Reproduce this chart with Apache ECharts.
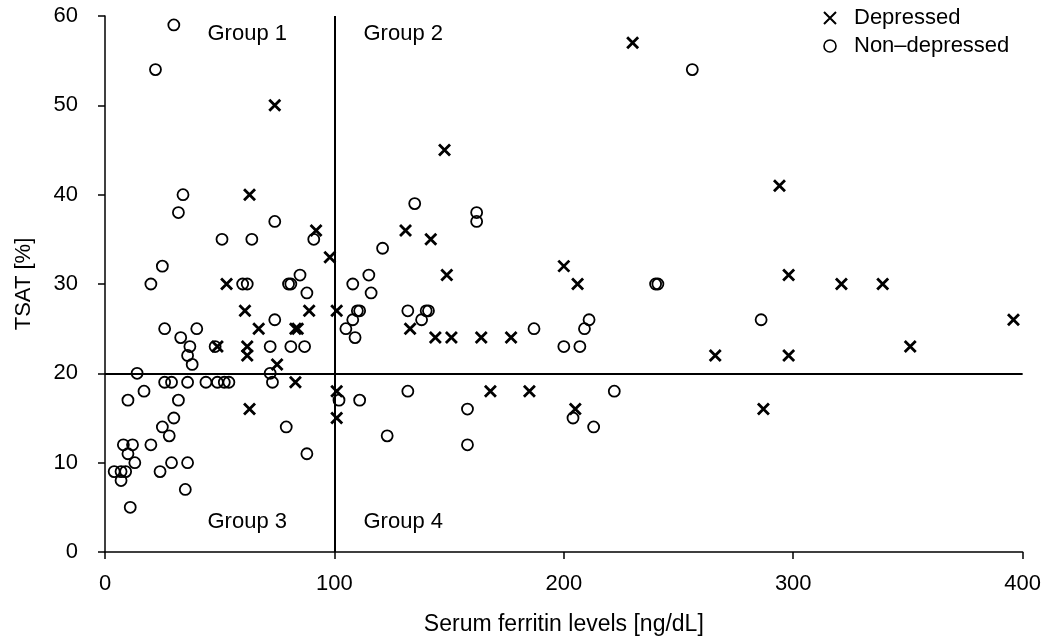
<!DOCTYPE html>
<html>
<head>
<meta charset="utf-8">
<script src="https://cdn.jsdelivr.net/npm/echarts@6/dist/echarts.min.js"></script>
<style>
html,body{margin:0;padding:0;background:#fff;}
#c{width:1044px;height:641px;}
</style>
</head>
<body>
<div id="c"></div>
<script>
// Depressed (crosses)
var depFerritin = [74,63,92,98,53,61,89,101,67,83,84,49,62,62,75,83,101,63,101,
  230,148,294,131,142,200,149,206,298,321,339,396,133,144,151,164,177,351,266,298,168,185,205,287];
var depTsat = [50,40,36,33,30,27,27,27,25,25,25,23,23,22,21,19,18,16,15,
  57,45,41,36,35,32,31,30,31,30,30,26,25,24,24,24,24,23,22,22,18,18,16,16];
// Non-depressed (circles)
var nonFerritin = [30,22,34,32,74,91,51,64,25,20,60,62,80,81,85,88,74,26,40,33,37,48,72,81,87,36,38,
  14,26,29,36,44,49,52,54,72,73,17,10,32,30,25,28,79,88,20,8,12,10,13,29,36,4,7,9,24,7,35,11,
  108,135,162,162,121,115,116,110,111,132,140,141,108,138,105,109,187,200,207,209,211,240,241,256,286,
  102,111,132,123,158,158,222,204,213];
var nonTsat = [59,54,40,38,37,35,35,35,32,30,30,30,30,30,31,29,26,25,25,24,23,23,23,23,23,22,21,
  20,19,19,19,19,19,19,19,20,19,18,17,17,15,14,13,14,11,12,12,12,11,10,10,10,9,9,9,9,8,7,5,
  30,39,38,37,34,31,29,27,27,27,27,27,26,26,25,24,25,23,23,25,26,30,30,54,26,
  17,17,18,13,16,12,18,15,14];
// Cut-off lines
var ferritinCut = 100;
var tsatCut = 20;
// Quadrant labels
var groupNames = ['Group 1','Group 2','Group 3','Group 4'];
var groupX = [62, 130, 62, 130];
var groupY = [58, 58, 3.4, 3.4];
// Axis ticks
var xTicks = [0,100,200,300,400];
var yTicks = [0,10,20,30,40,50,60];

function pairs(xs, ys){ return xs.map(function(x,i){ return [x, ys[i]]; }); }

var FONT = 'Liberation Sans, Arial, Helvetica, sans-serif';
var FS = 22;
var crossPath = 'path://M0,0L10,10M10,0L0,10';

var chart = echarts.init(document.getElementById('c'), null, {renderer:'canvas'});
chart.setOption({
  animation: false,
  backgroundColor: '#fff',
  textStyle: {fontFamily: FONT},
  grid: {left: 105, right: 19, top: 16, bottom: 86, containLabel: false},
  legend: {
    orient: 'vertical',
    left: 818, top: 2,
    itemWidth: 38, itemHeight: 12, itemGap: 6,
    selectedMode: false,
    textStyle: {fontFamily: FONT, fontSize: FS, color: '#000'},
    data: [
      {name: 'Depressed', icon: crossPath, itemStyle: {color: '#000', borderColor: '#000', borderWidth: 2}},
      {name: 'Non\u2013depressed', icon: 'circle', itemStyle: {color: 'rgba(0,0,0,0)', borderColor: '#000', borderWidth: 1.6}}
    ]
  },
  xAxis: {
    type: 'value', min: xTicks[0], max: xTicks[xTicks.length-1], interval: 100,
    name: 'Serum ferritin levels [ng/dL]', nameLocation: 'middle', nameGap: 61,
    nameTextStyle: {fontFamily: FONT, fontSize: 23, color: '#000'},
    axisLine: {show: true, lineStyle: {color: '#000', width: 1.5}},
    axisTick: {show: true, inside: false, length: 7, lineStyle: {color: '#000', width: 1.5}},
    axisLabel: {fontFamily: FONT, fontSize: FS, color: '#000', margin: 21},
    splitLine: {show: false}
  },
  yAxis: {
    type: 'value', min: yTicks[0], max: yTicks[yTicks.length-1], interval: 10,
    name: 'TSAT [%]', nameLocation: 'middle', nameGap: 70, nameRotate: 90,
    nameTextStyle: {fontFamily: FONT, fontSize: FS, color: '#000'},
    axisLine: {show: true, lineStyle: {color: '#000', width: 1.5}},
    axisTick: {show: true, inside: false, length: 7, lineStyle: {color: '#000', width: 1.5}},
    axisLabel: {fontFamily: FONT, fontSize: FS, color: '#000', margin: 27},
    splitLine: {show: false}
  },
  series: [
    {
      name: 'Non\u2013depressed', type: 'scatter', silent: true,
      symbol: 'circle', symbolSize: 11,
      itemStyle: {color: 'rgba(0,0,0,0)', borderColor: '#000', borderWidth: 1.8, opacity: 1},
      data: pairs(nonFerritin, nonTsat),
      markLine: {
        silent: true, symbol: 'none', animation: false,
        label: {show: false},
        lineStyle: {color: '#000', width: 2, type: 'solid'},
        data: [{xAxis: ferritinCut}, {yAxis: tsatCut}]
      }
    },
    {
      name: 'Depressed', type: 'scatter', silent: true,
      symbol: crossPath, symbolSize: 11, symbolKeepAspect: true,
      itemStyle: {color: '#000', borderColor: '#000', borderWidth: 2.8, opacity: 1},
      data: pairs(depFerritin, depTsat)
    },
    {
      name: 'groups', type: 'scatter', silent: true,
      symbolSize: 0,
      itemStyle: {opacity: 1},
      data: groupNames.map(function(n,i){ return {name: n, value: [groupX[i], groupY[i]]}; }),
      label: {show: true, position: 'inside', formatter: '{b}', fontFamily: FONT, fontSize: FS, color: '#000'}
    }
  ]
});
</script>
</body>
</html>
